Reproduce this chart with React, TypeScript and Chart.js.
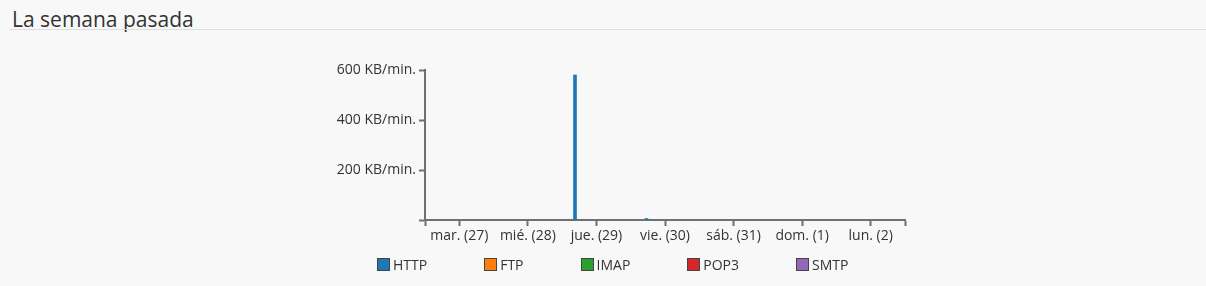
import React, { useEffect, useRef } from "react";
import { Chart, registerables } from "chart.js";

Chart.register(...registerables);

const title = "La semana pasada";
const dayLabels = ["mar. (27)", "mié. (28)", "jue. (29)", "vie. (30)", "sáb. (31)", "dom. (1)", "lun. (2)"];
const yTickValues = [0, 200, 400, 600];
const yUnit = "KB/min.";
const seriesNames = ["HTTP", "FTP", "IMAP", "POP3", "SMTP"];
const seriesColors = ["#1f77b4", "#ff7f0e", "#2ca02c", "#d62728", "#9467bd"];
// hour index (from mar. 27 00:00) at which each hourly bar starts, and its value in KB/min.
const httpHours = [40, 65];
const httpValues = [580, 6];
const ftpHours: number[] = [];
const ftpValues: number[] = [];
const imapHours: number[] = [];
const imapValues: number[] = [];
const pop3Hours: number[] = [];
const pop3Values: number[] = [];
const smtpHours: number[] = [];
const smtpValues: number[] = [];

const seriesHours = [httpHours, ftpHours, imapHours, pop3Hours, smtpHours];
const seriesValues = [httpValues, ftpValues, imapValues, pop3Values, smtpValues];

const FONT = "'Open Sans', sans-serif";

export default function App() {
  const ref = useRef<HTMLCanvasElement | null>(null);

  useEffect(() => {
    if (!ref.current) return;
    const axisColor = "#707070";
    const chart = new Chart(ref.current, {
      type: "bar",
      data: {
        datasets: seriesNames.map((name, i) => ({
          label: name,
          data: seriesHours[i].map((h, j) => ({ x: h + 0.5, y: seriesValues[i][j] })),
          backgroundColor: seriesColors[i],
          borderWidth: 0,
          barThickness: 3,
          grouped: false,
        })),
      },
      options: {
        animation: false,
        responsive: false,
        devicePixelRatio: 1,
        layout: { padding: { left: 320, right: 301, top: 70, bottom: 36 } },
        plugins: { legend: { display: false }, tooltip: { enabled: false } },
        scales: {
          x: {
            type: "linear",
            offset: false,
            min: -12,
            max: dayLabels.length * 24 - 12,
            afterFit: (s: any) => {
              s.height = 30;
            },
            afterBuildTicks: (s: any) => {
              const t = [{ value: -12 }];
              dayLabels.forEach((_, i) => t.push({ value: i * 24 }));
              t.push({ value: dayLabels.length * 24 - 12 });
              s.ticks = t;
            },
            ticks: {
              autoSkip: false,
              maxRotation: 0,
              padding: 2,
              color: "#333",
              font: { family: FONT, size: 14 },
              callback: (v: any) => {
                const n = Number(v);
                if (n % 24 !== 0) return "";
                return dayLabels[n / 24] ?? "";
              },
            },
            grid: { offset: false, drawOnChartArea: false, drawTicks: true, tickLength: 6, tickWidth: 2, color: axisColor },
            border: { display: true, color: axisColor, width: 2 },
          },
          y: {
            type: "linear",
            min: yTickValues[0],
            max: yTickValues[yTickValues.length - 1],
            afterFit: (s: any) => {
              s.width = 105;
            },
            afterBuildTicks: (s: any) => {
              s.ticks = yTickValues.map((v) => ({ value: v }));
            },
            ticks: {
              padding: 3,
              color: "#333",
              font: { family: FONT, size: 14 },
              callback: (v: any) => (Number(v) === 0 ? "" : `${v} ${yUnit}`),
            },
            grid: { drawOnChartArea: false, drawTicks: true, tickLength: 6, tickWidth: 2, color: axisColor },
            border: { display: true, color: axisColor, width: 2 },
          },
        },
      },
    } as any);
    return () => chart.destroy();
  }, []);

  return (
    <div style={{ position: "relative", width: 1206, height: 286, background: "#f8f8f8", overflow: "hidden" }}>
      <style>{"body{margin:0;background:#f8f8f8;}"}</style>
      <div
        style={{
          position: "absolute",
          left: 12,
          top: 9,
          fontFamily: FONT,
          fontSize: 21,
          lineHeight: "21px",
          color: "#333",
          whiteSpace: "nowrap",
        }}
      >
        {title}
      </div>
      <div style={{ position: "absolute", left: 10, right: 0, top: 29, height: 1, background: "#dedede" }} />
      <canvas ref={ref} width={1206} height={286} style={{ position: "absolute", left: 0, top: 0 }} />
      <div
        style={{
          position: "absolute",
          left: 377,
          top: 258,
          display: "flex",
          alignItems: "center",
          fontFamily: FONT,
          fontSize: 14,
          lineHeight: "13px",
          color: "#333",
        }}
      >
        {seriesNames.map((name, i) => (
          <div key={name} style={{ display: "flex", alignItems: "center", marginRight: i < seriesNames.length - 1 ? 57 : 0 }}>
            <span
              style={{
                display: "inline-block",
                width: 11,
                height: 11,
                background: seriesColors[i],
                border: "1px solid #444",
                marginRight: 3,
              }}
            />
            <span>{name}</span>
          </div>
        ))}
      </div>
    </div>
  );
}
